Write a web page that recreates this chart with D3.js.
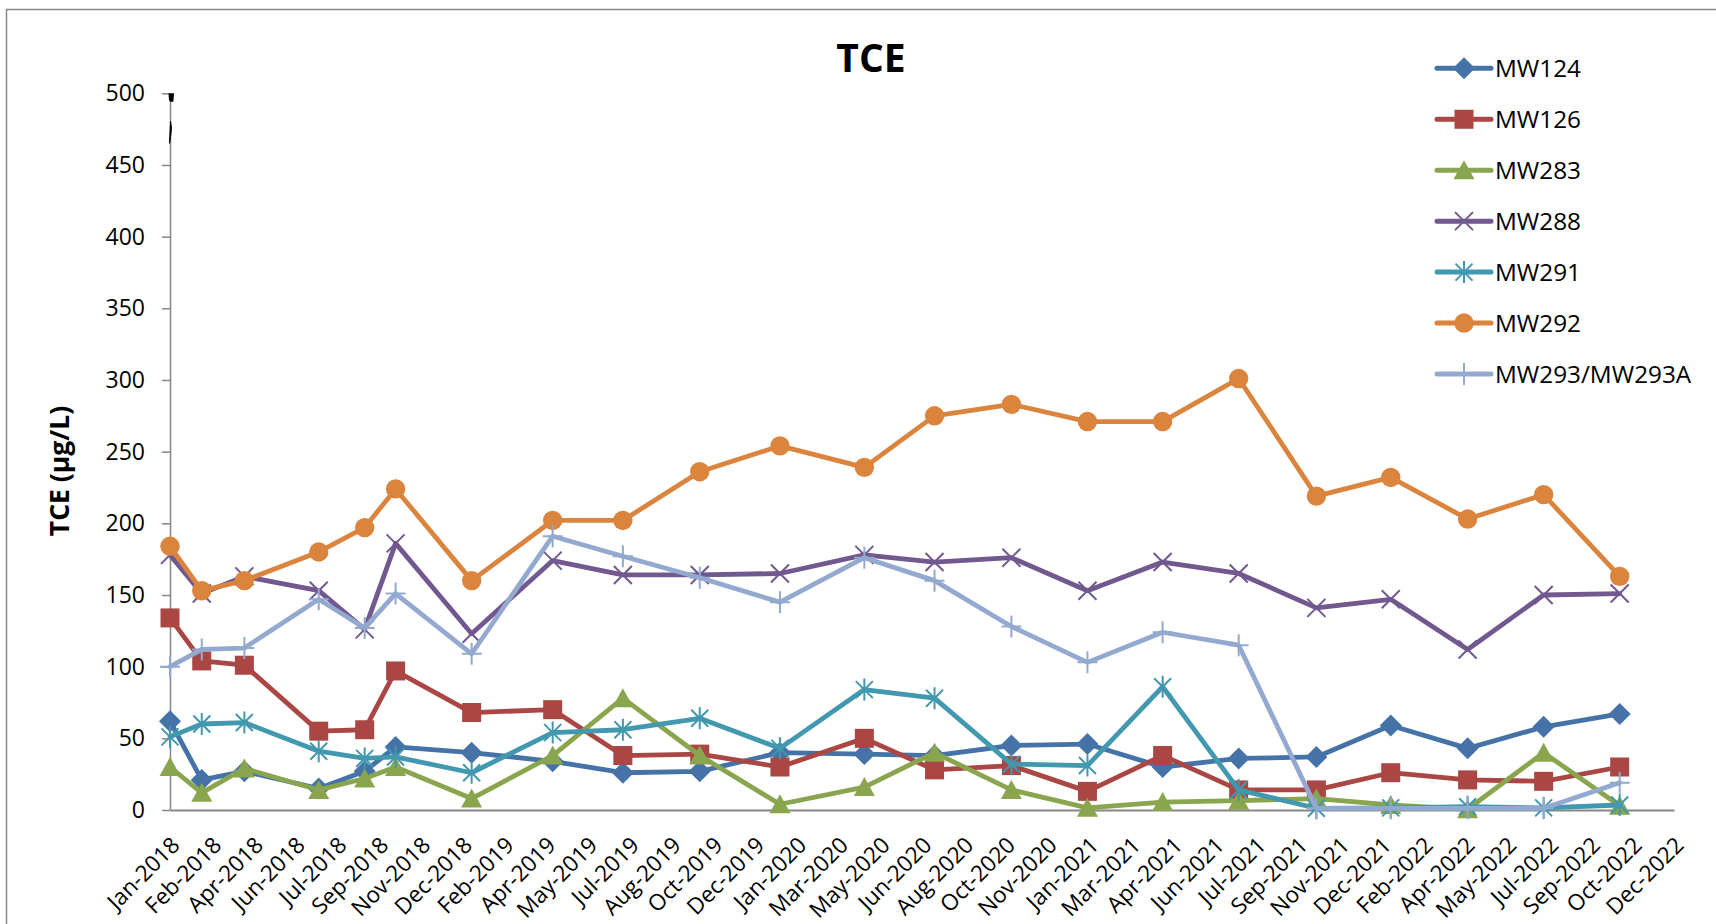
<!DOCTYPE html>
<html>
<head>
<meta charset="utf-8">
<script src="https://cdn.jsdelivr.net/npm/d3@7"></script>
<style>
  html, body { margin: 0; padding: 0; background: #fff; }
  svg { display: block; font-family: "Open Sans", "Noto Sans", sans-serif; }
</style>
</head>
<body>
<svg id="chart" width="1716" height="924"></svg>
<script>
// ---------- data ----------
const sampleDates = ["2018-01-08","2018-02-15","2018-04-07","2018-07-05","2018-08-29","2018-10-05",
  "2019-01-04","2019-04-11","2019-07-04","2019-10-04","2020-01-08","2020-04-18","2020-07-11",
  "2020-10-11","2021-01-10","2021-04-10","2021-07-10","2021-10-11","2022-01-08","2022-04-10",
  "2022-07-10","2022-10-09"];

const mw124 = [62, 21, 27, 15, 27, 44, 40, 34, 26, 27, 40, 39, 38, 45, 46, 30, 36, 37, 59, 43, 58, 67];
const mw126 = [134, 104, 101, 55, 56, 97, 68, 70, 38, 39, 30, 50, 28, 31, 13, 38, 14, 14, 26, 21, 20, 30];
const mw283 = [30, 12, 29, 14, 22, 30, 8, 38, 78, 38, 4, 16, 40, 14, 1.5, 5.5, 6.5, 8, 3.5, 0.5, 40, 3];
const mw288 = [178, 151, 163, 153, 126, 186, 123, 174, 164, 164, 165, 178, 173, 176, 153, 173, 165, 141, 147, 112, 150, 151];
const mw291 = [51, 60, 61, 41, 36, 37, 26, 54, 56, 64, 43, 84, 78, 32, 31, 86, 14, 1.2, 1.5, 2.3, 1.5, 3.5];
const mw292 = [184, 153, 160, 180, 197, 224, 160, 202, 202, 236, 254, 239, 275, 283, 271, 271, 301, 219, 232, 203, 220, 163];
const mw293 = [100, 112, 113, 147, 127, 151, 109, 191, 177, 162, 145, 176, 160, 128, 103, 124, 115, 1.2, 1.2, 1.2, 1.2, 19];

const seriesNames = ["MW124", "MW126", "MW283", "MW288", "MW291", "MW292", "MW293/MW293A"];
const seriesValues = [mw124, mw126, mw283, mw288, mw291, mw292, mw293];
const seriesColors = ["#4572A7", "#AA4643", "#89A54E", "#71588F", "#4198AF", "#DB843D", "#93A9CF"];
const seriesMarkers = ["diamond", "square", "triangle", "x", "asterisk", "circle", "plus"];

const tickLabels = ["Jan-2018","Feb-2018","Apr-2018","Jun-2018","Jul-2018","Sep-2018","Nov-2018",
  "Dec-2018","Feb-2019","Apr-2019","May-2019","Jul-2019","Aug-2019","Oct-2019","Dec-2019",
  "Jan-2020","Mar-2020","May-2020","Jun-2020","Aug-2020","Oct-2020","Nov-2020","Jan-2021",
  "Mar-2021","Apr-2021","Jun-2021","Jul-2021","Sep-2021","Nov-2021","Dec-2021","Feb-2022",
  "Apr-2022","May-2022","Jul-2022","Sep-2022","Oct-2022","Dec-2022"];
const axisStart = "2018-01-08";
const tickStepDays = 50;
const yTicks = [0, 50, 100, 150, 200, 250, 300, 350, 400, 450, 500];

const chartTitle = "TCE";
const yTitle = "TCE (µg/L)";

// ---------- layout ----------
const svg = d3.select("#chart");
const W = 1716, H = 924;
const plot = { left: 170, right: 1674, top: 93.3, bottom: 810 };
const axisColor = "#868686";

svg.append("rect").attr("width", W).attr("height", H).attr("fill", "#fff");
// chart border
svg.append("rect").attr("x", 6.5).attr("y", 9.5).attr("width", W + 20).attr("height", H + 20)
  .attr("fill", "none").attr("stroke", axisColor).attr("stroke-width", 1.5);

const parse = d3.utcParse("%Y-%m-%d");
const start = parse(axisStart);
const tickDates = tickLabels.map((_, i) => d3.utcDay.offset(start, i * tickStepDays));
const x = d3.scaleUtc().domain([start, tickDates[tickDates.length - 1]]).range([plot.left, plot.right]);
const y = d3.scaleLinear().domain([0, 500]).range([plot.bottom, plot.top]);
const dates = sampleDates.map(parse);

// ---------- axes ----------
const yAxis = svg.append("g").attr("transform", `translate(${plot.left},0)`)
  .call(d3.axisLeft(y).tickValues(yTicks).tickSize(8).tickSizeOuter(0).tickPadding(17));
yAxis.select(".domain").attr("stroke", axisColor).attr("stroke-width", 1.5);
yAxis.selectAll(".tick line").attr("stroke", axisColor).attr("stroke-width", 1.5);
yAxis.selectAll(".tick text").attr("font-size", 23).attr("fill", "#000")
  .attr("font-family", "'Open Sans', sans-serif");

const xAxis = svg.append("g").attr("transform", `translate(0,${plot.bottom})`)
  .call(d3.axisBottom(x).tickValues(tickDates).tickSize(0).tickSizeOuter(0)
    .tickFormat((d, i) => tickLabels[i]));
xAxis.select(".domain").attr("stroke", axisColor).attr("stroke-width", 2);
xAxis.selectAll(".tick text")
  .attr("font-size", 22.5).attr("fill", "#000").attr("font-family", "'Open Sans', sans-serif")
  .attr("text-anchor", "end")
  .attr("y", 0).attr("dy", "0.35em")
  .attr("transform", "translate(5,31) rotate(-45)");

// odd black mark at top of the value axis
svg.append("path")
  .attr("d", `M${plot.left - 1.5},${y(500)} L${plot.left + 4},${y(500)} L${plot.left + 3.5},${y(500) + 8} Q${plot.left + 1},${y(500) + 10} ${plot.left - 1},${y(500) + 7} Z`)
  .attr("fill", "#000");
svg.append("path")
  .attr("d", `M${plot.left + 0.5},${y(500) + 28} Q${plot.left + 2},${y(500) + 33} ${plot.left + 1},${y(500) + 40} L${plot.left - 0.5},${y(500) + 50} Z`)
  .attr("fill", "#000").attr("stroke", "#000").attr("stroke-width", 1);

// ---------- titles ----------
svg.append("text").attr("x", 871).attr("y", 72).attr("text-anchor", "middle")
  .attr("font-size", 39).attr("font-weight", "bold").attr("fill", "#000").text(chartTitle);
svg.append("text").attr("transform", "translate(69,471) rotate(-90)").attr("text-anchor", "middle")
  .attr("font-size", 26.5).attr("font-weight", "bold").attr("fill", "#000").text(yTitle);

// ---------- markers ----------
function drawMarker(g, type, color) {
  switch (type) {
    case "diamond":
      g.append("path").attr("d", "M0,-11L11,0L0,11L-11,0Z").attr("fill", color); break;
    case "square":
      g.append("rect").attr("x", -9.5).attr("y", -9.5).attr("width", 19).attr("height", 19).attr("fill", color); break;
    case "triangle":
      g.append("path").attr("d", "M0,-10L10.5,9L-10.5,9Z").attr("fill", color); break;
    case "x":
      g.append("path").attr("d", "M-9,-9L9,9M-9,9L9,-9").attr("stroke", color).attr("stroke-width", 2).attr("fill", "none"); break;
    case "asterisk":
      g.append("path").attr("d", "M-8.5,-8.5L8.5,8.5M-8.5,8.5L8.5,-8.5M0,-11L0,11").attr("stroke", color).attr("stroke-width", 2).attr("fill", "none"); break;
    case "circle":
      g.append("circle").attr("r", 9.7).attr("fill", color); break;
    case "plus":
      g.append("path").attr("d", "M-10,0L10,0M0,-11L0,11").attr("stroke", color).attr("stroke-width", 2).attr("fill", "none"); break;
  }
}

// ---------- series ----------
const line = d3.line().x(d => x(d.date)).y(d => y(d.value));
seriesNames.forEach((name, si) => {
  const pts = dates.map((d, i) => ({ date: d, value: seriesValues[si][i] }));
  const g = svg.append("g").attr("class", "series");
  g.append("path").datum(pts).attr("d", line).attr("fill", "none")
    .attr("stroke", seriesColors[si]).attr("stroke-width", 4.8)
    .attr("stroke-linejoin", "round").attr("stroke-linecap", "round");
  pts.forEach(p => {
    const m = g.append("g").attr("transform", `translate(${x(p.date)},${y(p.value)})`);
    drawMarker(m, seriesMarkers[si], seriesColors[si]);
  });
});

// ---------- legend ----------
const legend = svg.append("g");
const legendX0 = 1437, legendX1 = 1491, legendY0 = 68.3, legendStep = 50.95;
seriesNames.forEach((name, si) => {
  const cy = legendY0 + si * legendStep;
  legend.append("line").attr("x1", legendX0).attr("x2", legendX1).attr("y1", cy).attr("y2", cy)
    .attr("stroke", seriesColors[si]).attr("stroke-width", 5).attr("stroke-linecap", "round");
  const m = legend.append("g").attr("transform", `translate(${(legendX0 + legendX1) / 2},${cy})`);
  drawMarker(m, seriesMarkers[si], seriesColors[si]);
  legend.append("text").attr("x", 1495).attr("y", cy).attr("dy", "0.35em")
    .attr("font-size", 24.3).attr("fill", "#000").text(name);
});
</script>
</body>
</html>
